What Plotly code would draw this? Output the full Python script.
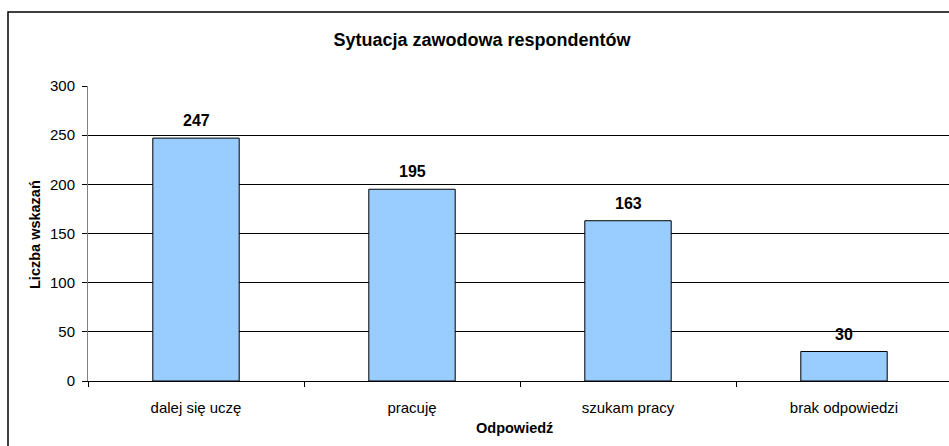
import plotly.graph_objects as go

categories = ["dalej się uczę", "pracuję", "szukam pracy", "brak odpowiedzi"]
values = [247, 195, 163, 30]
y_ticks = [0, 50, 100, 150, 200, 250, 300]

W, H = 949, 446
L, T, B = 88, 86, 65
plot_w = W - L  # right part of plot area is cut by the image edge
plot_h = H - T - B
cat_px = 216.0

fig = go.Figure()
fig.add_trace(go.Bar(
    x=categories, y=values, width=0.4,
    marker=dict(color="#99CCFF", line=dict(color="#000000", width=1)),
    hoverinfo="x+y",
))

for c, v in zip(categories, values):
    fig.add_annotation(x=c, y=v, text=f"<b>{v}</b>", showarrow=False,
                       yanchor="bottom", yshift=7,
                       font=dict(family="Liberation Sans, Arial", size=16, color="#000"))

fig.add_annotation(xref="paper", yref="paper", x=(35 - L) / plot_w, y=(H - B - 235) / plot_h,
                   xanchor="center", yanchor="middle",
                   text="<b>Liczba wskazań</b>", textangle=-90, showarrow=False,
                   font=dict(family="Liberation Sans, Arial", size=14.5, color="#000"))
fig.add_annotation(xref="paper", yref="paper", x=(514 - L) / plot_w, y=-(428 - (H - B)) / plot_h,
                   xanchor="center", yanchor="middle",
                   text="<b>Odpowiedź</b>", showarrow=False,
                   font=dict(family="Liberation Sans, Arial", size=14.5, color="#000"))

# chart area border (cut by image edges)
fig.add_shape(type="rect", xref="paper", yref="paper",
              x0=(8 - L) / plot_w, x1=(W + 20 - L) / plot_w,
              y0=-(H + 20 - (H - B)) / plot_h, y1=1 + (T - 12) / plot_h,
              line=dict(color="#000", width=1.5), layer="below")

fig.update_layout(
    width=W, height=H,
    margin=dict(l=L, r=0, t=T, b=B, pad=0),
    paper_bgcolor="white", plot_bgcolor="white",
    showlegend=False,
    title=dict(text="<b>Sytuacja zawodowa respondentów</b>",
               x=482 / W, xanchor="center", y=1 - 40 / H, yanchor="middle",
               xref="container", yref="container",
               font=dict(family="Liberation Sans, Arial", size=18, color="#000")),
    font=dict(family="Liberation Sans, Arial", size=15, color="#000"),
    xaxis=dict(range=[-0.5, -0.5 + plot_w / cat_px], showline=True, linecolor="#000", linewidth=1,
               ticks="outside", ticklen=5, tickcolor="#000", tickson="boundaries",
               showgrid=False, zeroline=False, fixedrange=True,
               tickfont=dict(size=15), ticklabelstandoff=13),
    yaxis=dict(range=[0, 300], tickvals=y_ticks, showline=True, linecolor="#808080", linewidth=1,
               ticks="outside", ticklen=5, tickcolor="#000",
               showgrid=True, gridcolor="#000", gridwidth=1, zeroline=False,
               tickfont=dict(size=15), ticklabelstandoff=4),
)

fig.write_html("out.html", config={"displayModeBar": False},
               post_script="document.body.style.margin='0';document.body.style.overflow='hidden';")
